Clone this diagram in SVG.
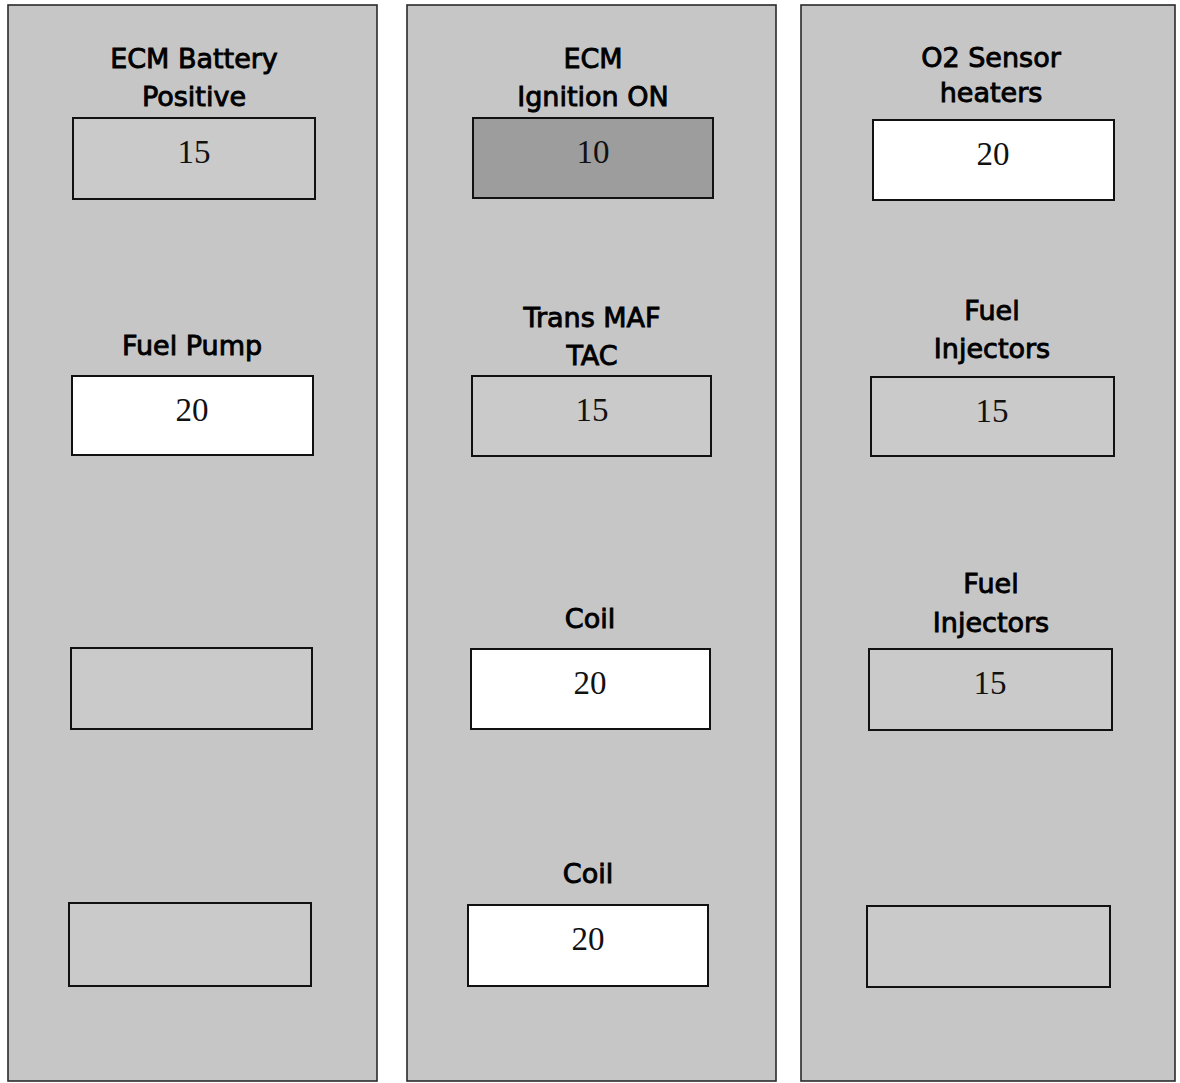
<svg xmlns="http://www.w3.org/2000/svg" width="1180" height="1083" viewBox="0 0 1180 1083">
<style>
.panel{fill:#c6c6c6;stroke:#2a2a2a;stroke-width:1.6}
.box{stroke:#111;stroke-width:2}
.g{fill:#cacaca}
.w{fill:#ffffff}
.d{fill:#9d9d9d}
.lbl{font-family:"DejaVu Sans",sans-serif;font-size:27px;fill:#000;stroke:#000;stroke-width:0.9;text-anchor:middle}
.num{font-family:"Liberation Serif",serif;font-size:33px;fill:#111;text-anchor:middle}
</style>
<rect width="1180" height="1083" fill="#ffffff"/>
<g id="panel-left">
<rect class="panel" x="8" y="5" width="369" height="1076"/>
</g>
<g id="panel-middle">
<rect class="panel" x="407" y="5" width="369" height="1076"/>
</g>
<g id="panel-right">
<rect class="panel" x="801" y="5" width="374" height="1076"/>
</g>
<g id="connectors"></g>
<g id="fuse-ecm-battery">
<text class="lbl" x="194" y="68">ECM Battery</text>
<text class="lbl" x="194" y="106">Positive</text>
<rect class="box g" x="73" y="118" width="242" height="81"/>
<text class="num" x="194" y="163">15</text>
</g>
<g id="fuse-fuel-pump">
<text class="lbl" x="192" y="355">Fuel Pump</text>
<rect class="box w" x="72" y="376" width="241" height="79"/>
<text class="num" x="192" y="421">20</text>
</g>
<g id="fuse-left-3">
<rect class="box g" x="71" y="648" width="241" height="81"/>
</g>
<g id="fuse-left-4">
<rect class="box g" x="69" y="903" width="242" height="83"/>
</g>
<g id="fuse-ecm-ignition">
<text class="lbl" x="593" y="68">ECM</text>
<text class="lbl" x="593" y="106">Ignition ON</text>
<rect class="box d" x="473" y="118" width="240" height="80"/>
<text class="num" x="593" y="163">10</text>
</g>
<g id="fuse-trans-maf-tac">
<text class="lbl" x="592" y="327">Trans MAF</text>
<text class="lbl" x="592" y="365">TAC</text>
<rect class="box g" x="472" y="376" width="239" height="80"/>
<text class="num" x="592" y="421">15</text>
</g>
<g id="fuse-coil-1">
<text class="lbl" x="590" y="628">Coil</text>
<rect class="box w" x="471" y="649" width="239" height="80"/>
<text class="num" x="590" y="694">20</text>
</g>
<g id="fuse-coil-2">
<text class="lbl" x="588" y="883">Coil</text>
<rect class="box w" x="468" y="905" width="240" height="81"/>
<text class="num" x="588" y="950">20</text>
</g>
<g id="fuse-o2-heaters">
<text class="lbl" x="991" y="67">O2 Sensor</text>
<text class="lbl" x="991" y="102">heaters</text>
<rect class="box w" x="873" y="120" width="241" height="80"/>
<text class="num" x="993" y="165">20</text>
</g>
<g id="fuse-fuel-injectors-1">
<text class="lbl" x="992" y="320">Fuel</text>
<text class="lbl" x="992" y="358">Injectors</text>
<rect class="box g" x="871" y="377" width="243" height="79"/>
<text class="num" x="992" y="422">15</text>
</g>
<g id="fuse-fuel-injectors-2">
<text class="lbl" x="991" y="593">Fuel</text>
<text class="lbl" x="991" y="632">Injectors</text>
<rect class="box g" x="869" y="649" width="243" height="81"/>
<text class="num" x="990" y="694">15</text>
</g>
<g id="fuse-right-4">
<rect class="box g" x="867" y="906" width="243" height="81"/>
</g>
</svg>
